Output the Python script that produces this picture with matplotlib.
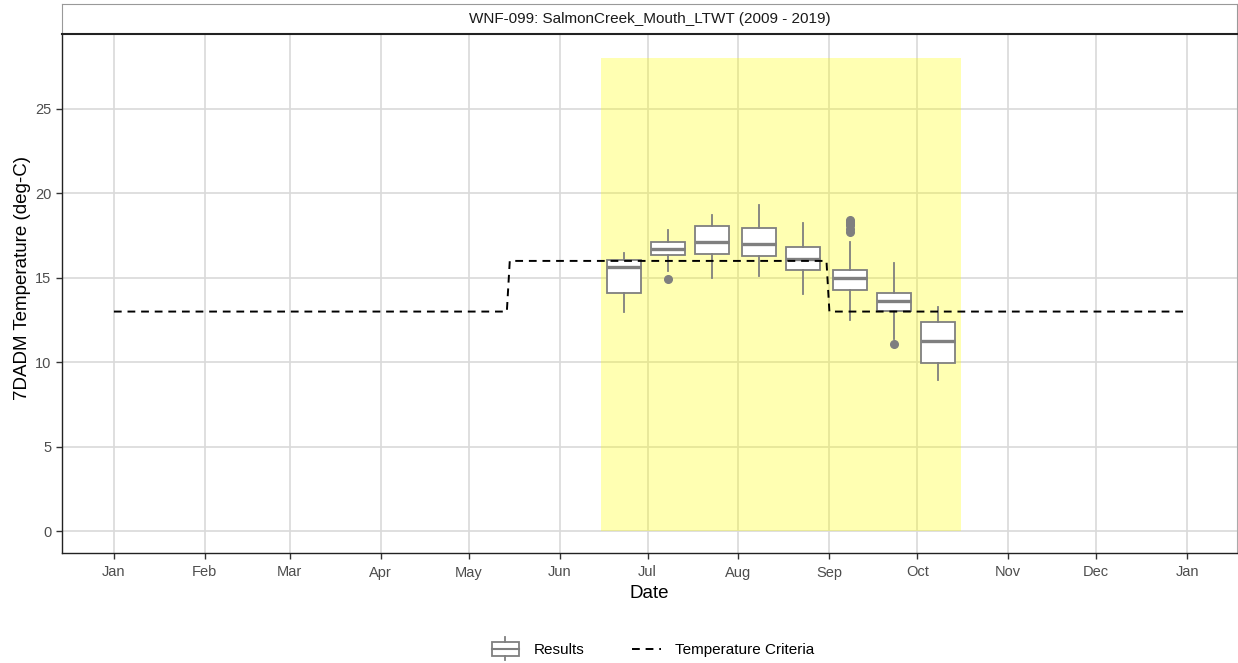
import pandas as pd
import matplotlib
matplotlib.use('Agg')
import matplotlib.pyplot as plt
import matplotlib.dates as mdates
from matplotlib.patches import Rectangle
from matplotlib.lines import Line2D
from matplotlib.legend_handler import HandlerBase

plt.rcParams['font.family'] = ['Liberation Sans', 'DejaVu Sans']

# semi-monthly box stats (deg-C), plotted on a leap-year calendar
box_dates = ['2020-06-23', '2020-07-08', '2020-07-23', '2020-08-08',
             '2020-08-23', '2020-09-08', '2020-09-23', '2020-10-08']
whis_lo = [12.95, 15.42, 15.01, 15.13, 14.04, 12.50, 11.35, 8.95]
q1 = [14.08, 16.37, 16.41, 16.29, 15.44, 14.26, 13.05, 9.93]
med = [15.62, 16.73, 17.14, 17.02, 16.11, 14.97, 13.63, 11.26]
q3 = [16.05, 17.14, 18.09, 17.93, 16.84, 15.44, 14.12, 12.36]
whis_hi = [16.49, 17.83, 18.72, 19.31, 18.23, 17.14, 15.86, 13.25]
outliers = [[], [14.93], [], [], [], [18.4, 18.3, 18.2, 18.1, 17.9, 17.7], [11.05], []]

# temperature criteria
crit_dates = ['2020-01-01', '2020-05-14', '2020-05-15', '2020-08-31', '2020-09-01', '2020-12-31']
crit_vals = [13, 13, 16, 16, 13, 13]

# critical period (shaded)
period_start = '2020-06-15'
period_end = '2020-10-16'
period_top = 28

title = 'WNF-099: SalmonCreek_Mouth_LTWT (2009 - 2019)'

box_col = '#7f7f7f'

fig = plt.figure(figsize=(12.38, 6.63), dpi=100)
ax = fig.add_axes([62/1238, 1 - 553/663, 1175/1238, (553-34)/663])

# grid
ax.set_axisbelow(True)
ax.grid(True, color='#d9d9d9', lw=1.2)

# shaded period
x0 = mdates.date2num(pd.Timestamp(period_start))
x1 = mdates.date2num(pd.Timestamp(period_end))
ax.add_patch(Rectangle((x0, 0), x1 - x0, period_top, facecolor='yellow',
                       alpha=0.3, edgecolor='none', zorder=1.5))

# criteria line
ax.plot(pd.to_datetime(crit_dates), crit_vals, color='black', lw=1.4,
        dashes=(4, 3), zorder=4)

# boxes
stats = []
for i in range(len(box_dates)):
    stats.append({'whislo': whis_lo[i], 'q1': q1[i], 'med': med[i], 'q3': q3[i],
                  'whishi': whis_hi[i], 'fliers': outliers[i]})
pos = [mdates.date2num(pd.Timestamp(d)) for d in box_dates]
ax.bxp(stats, positions=pos, widths=11.6, patch_artist=True, showcaps=False,
       manage_ticks=False,
       boxprops=dict(facecolor='white', edgecolor=box_col, lw=1.3),
       medianprops=dict(color=box_col, lw=2.4),
       whiskerprops=dict(color=box_col, lw=1.3),
       flierprops=dict(marker='o', markerfacecolor=box_col, markeredgecolor=box_col,
                       markersize=5.5),
       zorder=3)

# axes
jan1 = mdates.date2num(pd.Timestamp('2020-01-01'))
ax.set_xlim(jan1 - 17.7, jan1 + 383)
ax.set_ylim(-1.3, 29.44)
ax.xaxis.set_major_locator(mdates.MonthLocator())
ax.xaxis.set_major_formatter(mdates.DateFormatter('%b'))
ax.set_yticks([0, 5, 10, 15, 20, 25])
ax.tick_params(axis='both', colors='#333333', labelcolor='#4d4d4d', labelsize=10.5,
               length=4, width=1)
ax.tick_params(axis='x', pad=5)
ax.set_xlabel('Date', fontsize=13.5, labelpad=4)
ax.set_ylabel('7DADM Temperature (deg-C)', fontsize=13.5, labelpad=6)
ax.yaxis.set_label_coords(-0.026, 0.529)

for s in ['left', 'bottom']:
    ax.spines[s].set_color('#222222')
    ax.spines[s].set_linewidth(1.0)
ax.spines['top'].set_visible(False)
ax.spines['right'].set_color('#aaaaaa')
ax.spines['right'].set_linewidth(0.8)

# facet strip
sax = fig.add_axes([62/1238, 1 - 34/663, 1175/1238, 30/663])
sax.set_xticks([])
sax.set_yticks([])
for s in ['top', 'left', 'right']:
    sax.spines[s].set_color('#999999')
    sax.spines[s].set_linewidth(0.8)
sax.spines['bottom'].set_color('#222222')
sax.spines['bottom'].set_linewidth(1.5)
sax.text(0.5, 0.5, title, ha='center', va='center', fontsize=11, color='#1a1a1a',
         transform=sax.transAxes)


# legend glyph for boxes
class BoxHandler(HandlerBase):
    def create_artists(self, legend, orig_handle, xdescent, ydescent, width, height,
                       fontsize, trans):
        cx = width / 2 - xdescent
        bw = width * 0.95
        h = height * 2.2
        yb = -ydescent + height / 2 - h / 2
        rect = Rectangle((cx - bw / 2, yb + h * 0.2), bw, h * 0.6, facecolor='white',
                         edgecolor=box_col, lw=1.3, transform=trans)
        mline = Line2D([cx - bw / 2, cx + bw / 2], [yb + h / 2, yb + h / 2],
                       color=box_col, lw=1.5, transform=trans)
        w1 = Line2D([cx, cx], [yb, yb + h * 0.2], color=box_col, lw=1.3, transform=trans)
        w2 = Line2D([cx, cx], [yb + h * 0.8, yb + h], color=box_col, lw=1.3, transform=trans)
        return [rect, mline, w1, w2]


box_handle = Rectangle((0, 0), 1, 1)
crit_handle = Line2D([], [], color='black', lw=1.4, dashes=(4, 3))
fig.legend([box_handle, crit_handle], ['Results', 'Temperature Criteria'],
           handler_map={Rectangle: BoxHandler()}, loc='center',
           bbox_to_anchor=(0.527, 1 - 650/663), ncol=2, frameon=False, fontsize=11,
           handlelength=1.9, columnspacing=3.1, handletextpad=0.9)

fig.savefig('out.png', dpi=100)
